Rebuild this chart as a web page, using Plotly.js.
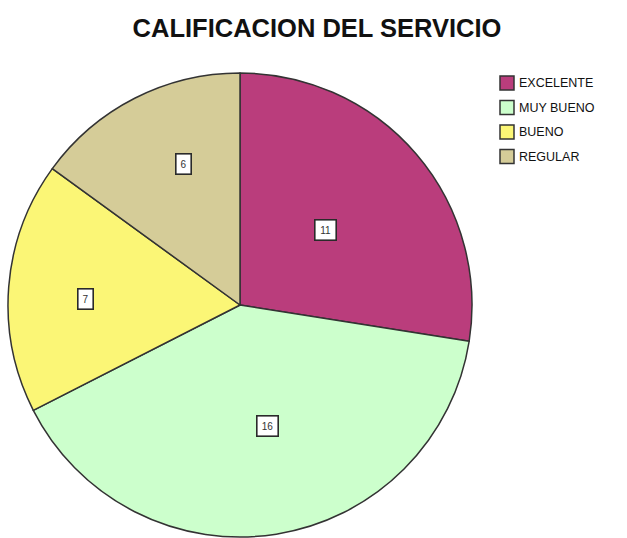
<!DOCTYPE html>
<html><head><meta charset="utf-8">
<script src="https://cdn.plot.ly/plotly-3.0.1.min.js"></script>
<style>body{margin:0;background:#fff}#c{width:627px;height:538px}</style>
</head><body><div id="c"></div>
<script>
const categories = ["EXCELENTE", "MUY BUENO", "BUENO", "REGULAR"];
const values = [11, 16, 7, 6];
const colors = ["#BA3D7C", "#CCFFCC", "#FBF676", "#D5CC98"];
// label placement style: radius fraction and angular nudge (degrees) per slice
const labelRadius = [0.49, 0.535, 0.668, 0.654];
const labelAngleNudge = [-0.9, -4, -2.3, 5.3];

const W = 627, H = 538;
const cx = 240, cy = 305, R = 232;
const total = values.reduce((a, b) => a + b, 0);

const annotations = [];
let cum = 0;
values.forEach((v, i) => {
  const mid = (cum + v / 2) / total * 2 * Math.PI + labelAngleNudge[i] * Math.PI / 180;
  cum += v;
  const px = cx + Math.sin(mid) * R * labelRadius[i];
  const py = cy - Math.cos(mid) * R * labelRadius[i];
  const s = String(v);
  annotations.push({
    x: px / W, y: 1 - py / H, xref: 'paper', yref: 'paper',
    xanchor: 'center', yanchor: 'middle',
    text: s, showarrow: false,
    width: 6 + 6 * s.length, height: 17,
    font: {family: 'Liberation Sans, Arial', size: 10, color: '#333'},
    bgcolor: '#fff', bordercolor: '#2a2a2a', borderwidth: 1.6, borderpad: 1
  });
});

// legend
const shapes = [];
categories.forEach((c, i) => {
  const yc = 83 + i * 24.5;
  shapes.push({type: 'rect', xref: 'paper', yref: 'paper',
    x0: 500 / W, x1: 514 / W, y0: 1 - (yc + 7) / H, y1: 1 - (yc - 7) / H,
    fillcolor: colors[i], line: {color: '#333', width: 1.5}});
  annotations.push({x: 516.5 / W, y: 1 - yc / H, xref: 'paper', yref: 'paper',
    xanchor: 'left', yanchor: 'middle', text: c, showarrow: false,
    font: {family: 'Liberation Sans, Arial', size: 12.5, color: '#111'}});
});

const trace = {
  type: 'pie', labels: categories, values: values, sort: false,
  direction: 'clockwise', rotation: 0,
  marker: {colors: colors, line: {color: '#333', width: 1.5}},
  textinfo: 'none', hoverinfo: 'label+value', showlegend: false,
  domain: {x: [(cx - R) / W, (cx + R) / W], y: [1 - (cy + R) / H, 1 - (cy - R) / H]}
};

Plotly.newPlot('c', [trace], {
  width: W, height: H, margin: {l: 0, r: 0, t: 0, b: 0},
  paper_bgcolor: '#fff',
  title: {text: '<b>CALIFICACION DEL SERVICIO</b>', x: 317 / W, xanchor: 'center',
    y: 1 - 28 / H, yanchor: 'middle',
    font: {family: 'Liberation Sans, Arial', size: 25.5, color: '#111'}},
  annotations: annotations, shapes: shapes, showlegend: false
}, {displayModeBar: false});
</script></body></html>
